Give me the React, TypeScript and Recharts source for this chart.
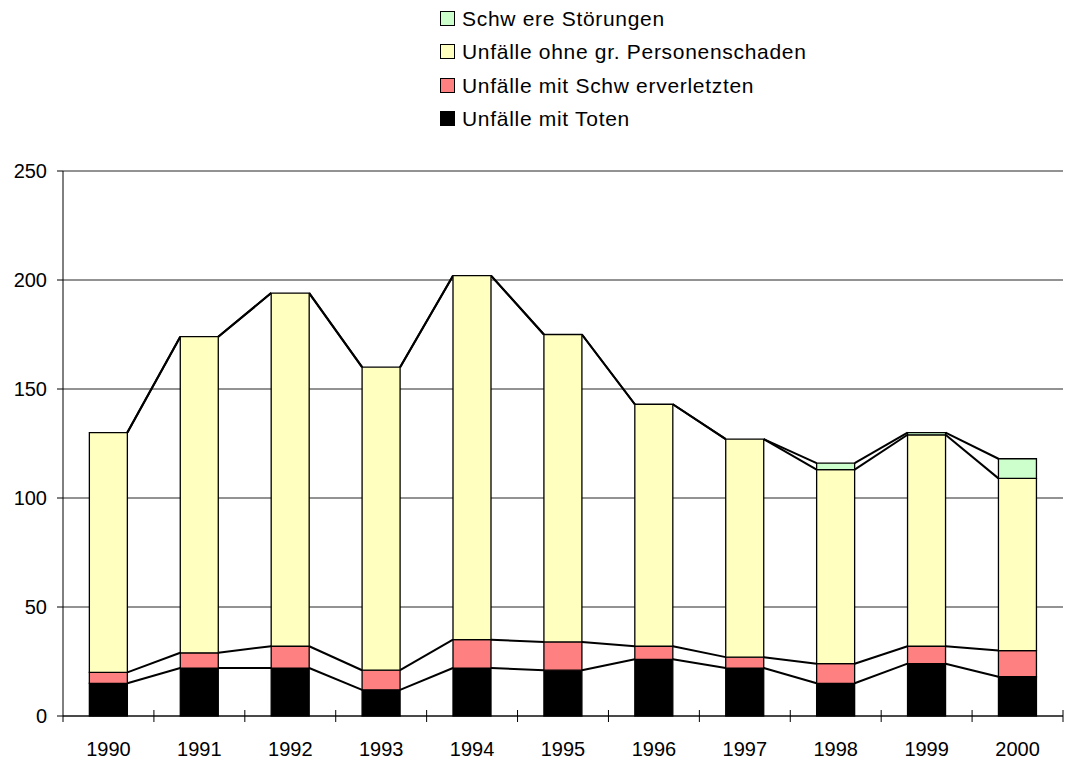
import React from 'react';
import { BarChart, Bar, XAxis, YAxis, CartesianGrid } from 'recharts';

const YEARS: string[] = ['1990', '1991', '1992', '1993', '1994', '1995', '1996', '1997', '1998', '1999', '2000'];
const TOTEN: number[] = [15, 22, 22, 12, 22, 21, 26, 22, 15, 24, 18];
const SCHWERVERLETZTE: number[] = [5, 7, 10, 9, 13, 13, 6, 5, 9, 8, 12];
const OHNE_PERSONENSCHADEN: number[] = [110, 145, 162, 139, 167, 141, 111, 100, 89, 97, 79];
const SCHWERE_STOERUNGEN: number[] = [0, 0, 0, 0, 0, 0, 0, 0, 3, 1, 9];
const Y_TICKS: number[] = [0, 50, 100, 150, 200, 250];

const SERIES = [
  { key: 'toten', name: 'Unfälle mit Toten', color: '#000000', values: TOTEN },
  { key: 'schwer', name: 'Unfälle mit Schw erverletzten', color: '#FF8080', values: SCHWERVERLETZTE },
  { key: 'ohne', name: 'Unfälle ohne gr. Personenschaden', color: '#FFFFC0', values: OHNE_PERSONENSCHADEN },
  { key: 'stoer', name: 'Schw ere Störungen', color: '#CCFFCC', values: SCHWERE_STOERUNGEN },
];

const data = YEARS.map((year, i) => ({
  year,
  toten: TOTEN[i],
  schwer: SCHWERVERLETZTE[i],
  ohne: OHNE_PERSONENSCHADEN[i],
  stoer: SCHWERE_STOERUNGEN[i],
}));

// running totals per stack level, used for the series lines between bars
const cumulative: number[][] = SERIES.map((_, level) =>
  YEARS.map((_, i) => SERIES.slice(0, level + 1).reduce((sum, s) => sum + s.values[i], 0)),
);

const WIDTH = 1067;
const HEIGHT = 763;
const MARGIN = { top: 171, right: 4, bottom: 0, left: 0 };
const Y_AXIS_W = 63;
const X_AXIS_H = 47;
const BAND = (WIDTH - MARGIN.left - MARGIN.right - Y_AXIS_W) / YEARS.length;
const FONT = '"Liberation Sans", Arial, sans-serif';

// bottom series shape: draws its bar plus the Excel-style series lines to the next bar
const BaseShape = (props: any) => {
  const { x, y, width, height, index, fill } = props;
  const k = height / TOTEN[index];
  const bottom = y + height;
  const nextX = x + BAND;
  const hasNext = index < YEARS.length - 1;
  return (
    <g>
      <rect x={x} y={y} width={width} height={height} fill={fill} stroke="#000" strokeWidth={1.3} />
      {hasNext &&
        cumulative.map((levels, l) => (
          <line
            key={l}
            x1={x + width}
            y1={bottom - levels[index] * k}
            x2={nextX}
            y2={bottom - levels[index + 1] * k}
            stroke="#000"
            strokeWidth={2}
          />
        ))}
    </g>
  );
};

const YearTick = (props: any) => {
  const { x, y, payload } = props;
  const half = BAND / 2;
  return (
    <g>
      <line x1={x + half} y1={y - 6} x2={x + half} y2={y + 6} stroke="#000" />
      {payload.index === 0 && <line x1={x - half} y1={y} x2={x - half} y2={y + 6} stroke="#000" />}
      <text x={x} y={y + 40} textAnchor="middle" fontSize={20} fontFamily={FONT} fill="#000">
        {payload.value}
      </text>
    </g>
  );
};

const LegendBox = () => (
  <div
    style={{
      position: 'absolute',
      left: 440,
      top: 2,
      fontFamily: FONT,
      fontSize: 21,
      letterSpacing: 0.7,
      color: '#000',
    }}
  >
    {[...SERIES].reverse().map((s) => (
      <div key={s.key} style={{ display: 'flex', alignItems: 'center', height: 33.3, lineHeight: '21px' }}>
        <span
          style={{
            display: 'inline-block',
            width: 13,
            height: 13,
            background: s.color,
            border: '1px solid #000',
            marginRight: 7,
          }}
        />
        <span>{s.name}</span>
      </div>
    ))}
  </div>
);

const App: React.FC = () => {
  return (
    <div style={{ position: 'absolute', left: 0, top: 0, width: WIDTH, height: HEIGHT, background: '#fff' }}>
      <BarChart width={WIDTH} height={HEIGHT} data={data} margin={MARGIN} barCategoryGap="29%">
        <CartesianGrid vertical={false} stroke="#000" strokeOpacity={0.85} />
        <XAxis
          dataKey="year"
          height={X_AXIS_H}
          axisLine={{ stroke: '#000' }}
          tickLine={false}
          tickSize={0}
          tickMargin={0}
          tick={<YearTick />}
          interval={0}
        />
        <YAxis
          width={Y_AXIS_W}
          domain={[0, 250]}
          ticks={Y_TICKS}
          axisLine={{ stroke: '#000' }}
          tickLine={{ stroke: '#000' }}
          tickSize={6}
          tickMargin={10}
          tick={{ fill: '#000', fontSize: 20, fontFamily: FONT }}
        />
        {SERIES.map((s, i) => (
          <Bar
            key={s.key}
            dataKey={s.key}
            name={s.name}
            stackId="a"
            fill={s.color}
            stroke="#000"
            strokeWidth={1.3}
            isAnimationActive={false}
            shape={i === 0 ? <BaseShape /> : undefined}
          />
        ))}
      </BarChart>
      <LegendBox />
    </div>
  );
};

export default App;
